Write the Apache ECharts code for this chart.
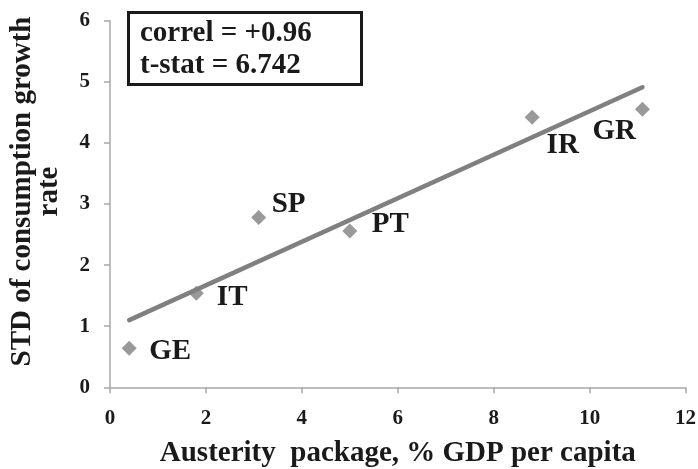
<!DOCTYPE html>
<html>
<head>
<meta charset="utf-8">
<script src="https://cdn.jsdelivr.net/npm/echarts@6/dist/echarts.min.js"></script>
<style>html,body{margin:0;padding:0;background:#fff;}#c{width:698px;height:469px;}</style>
</head>
<body>
<div id="c"></div>
<script>
var countries = ['GE', 'IT', 'SP', 'PT', 'IR', 'GR'];
var austerity = [0.4, 1.8, 3.1, 5.0, 8.8, 11.1];
var stdCons = [0.64, 1.54, 2.78, 2.56, 4.42, 4.55];
var trendX = [0.4, 11.1];
var trendY = [1.1, 4.91];
var xTicks = [0, 2, 4, 6, 8, 10, 12];
var yTicks = [0, 1, 2, 3, 4, 5, 6];
var statLines = ['correl = +0.96', 't-stat = 6.742'];
var xTitle = 'Austerity  package, % GDP per capita';
var yTitle = 'STD of consumption growth\nrate';

var labelOffsets = {
  GE: [12.5, 3], IT: [13, 4], SP: [5.5, -13], PT: [14.5, -6], IR: [7, 28], GR: [-57.5, 22]
};

var FONT = '"Liberation Serif", "Times New Roman", serif';
var INK = '#1a1a1a';

var pts = countries.map(function (c, i) {
  return {
    value: [austerity[i], stdCons[i]],
    name: c,
    label: { offset: labelOffsets[c] }
  };
});

var chart = echarts.init(document.getElementById('c'));
chart.setOption({
  animation: false,
  backgroundColor: '#fff',
  grid: { left: 110, right: 12.4, top: 20.7, bottom: 81.7, containLabel: false, outerBoundsMode: 'none' },
  xAxis: {
    type: 'value', min: xTicks[0], max: xTicks[xTicks.length - 1], interval: 2,
    name: xTitle, nameLocation: 'middle', nameGap: 52,
    nameTextStyle: { fontFamily: FONT, fontWeight: 'bold', fontSize: 29, color: INK, lineHeight: 29 },
    axisLine: { lineStyle: { color: '#a8a8a8', width: 1.5 } },
    axisTick: { show: true, length: 6, lineStyle: { color: '#a8a8a8', width: 1.5 } },
    axisLabel: { fontFamily: FONT, fontWeight: 'bold', fontSize: 21, color: INK, margin: 21 },
    splitLine: { show: false }
  },
  yAxis: {
    type: 'value', min: yTicks[0], max: yTicks[yTicks.length - 1], interval: 1,
    axisLine: { show: true, lineStyle: { color: '#a8a8a8', width: 1.5 } },
    axisTick: { show: true, length: 6, lineStyle: { color: '#a8a8a8', width: 1.5 } },
    axisLabel: { fontFamily: FONT, fontWeight: 'bold', fontSize: 21, color: INK, margin: 20 },
    splitLine: { show: false }
  },
  graphic: [
    {
      type: 'text', x: 36, y: 191.5, rotation: Math.PI / 2,
      style: { text: yTitle, fontFamily: FONT, fontWeight: 'bold', fontSize: 29, lineHeight: 27, fill: INK, align: 'center', verticalAlign: 'middle' },
      z: 10
    },
    {
      type: 'rect', shape: { x: 128.5, y: 12.5, width: 233, height: 72 },
      style: { fill: '#fff', stroke: INK, lineWidth: 3 }, z: 10
    },
    {
      type: 'text', x: 140, y: 34,
      style: { text: statLines[0], fontFamily: FONT, fontWeight: 'bold', fontSize: 29, fill: INK, verticalAlign: 'middle' }, z: 11
    },
    {
      type: 'text', x: 140, y: 66,
      style: { text: statLines[1], fontFamily: FONT, fontWeight: 'bold', fontSize: 29, fill: INK, verticalAlign: 'middle' }, z: 11
    }
  ],
  series: [
    {
      type: 'line',
      data: trendX.map(function (x, i) { return [x, trendY[i]]; }),
      showSymbol: false, symbol: 'none',
      lineStyle: { color: '#808080', width: 4.5, cap: 'round' },
      z: 2
    },
    {
      type: 'scatter',
      data: pts,
      symbol: 'diamond', symbolSize: 15,
      itemStyle: { color: '#808080' },
      label: {
        show: true, position: 'right', distance: 0,
        formatter: function (p) { return p.name; },
        fontFamily: FONT, fontWeight: 'bold', fontSize: 29, color: INK, opacity: 1
      },
      emphasis: { disabled: true },
      z: 3
    }
  ]
});
</script>
</body>
</html>
